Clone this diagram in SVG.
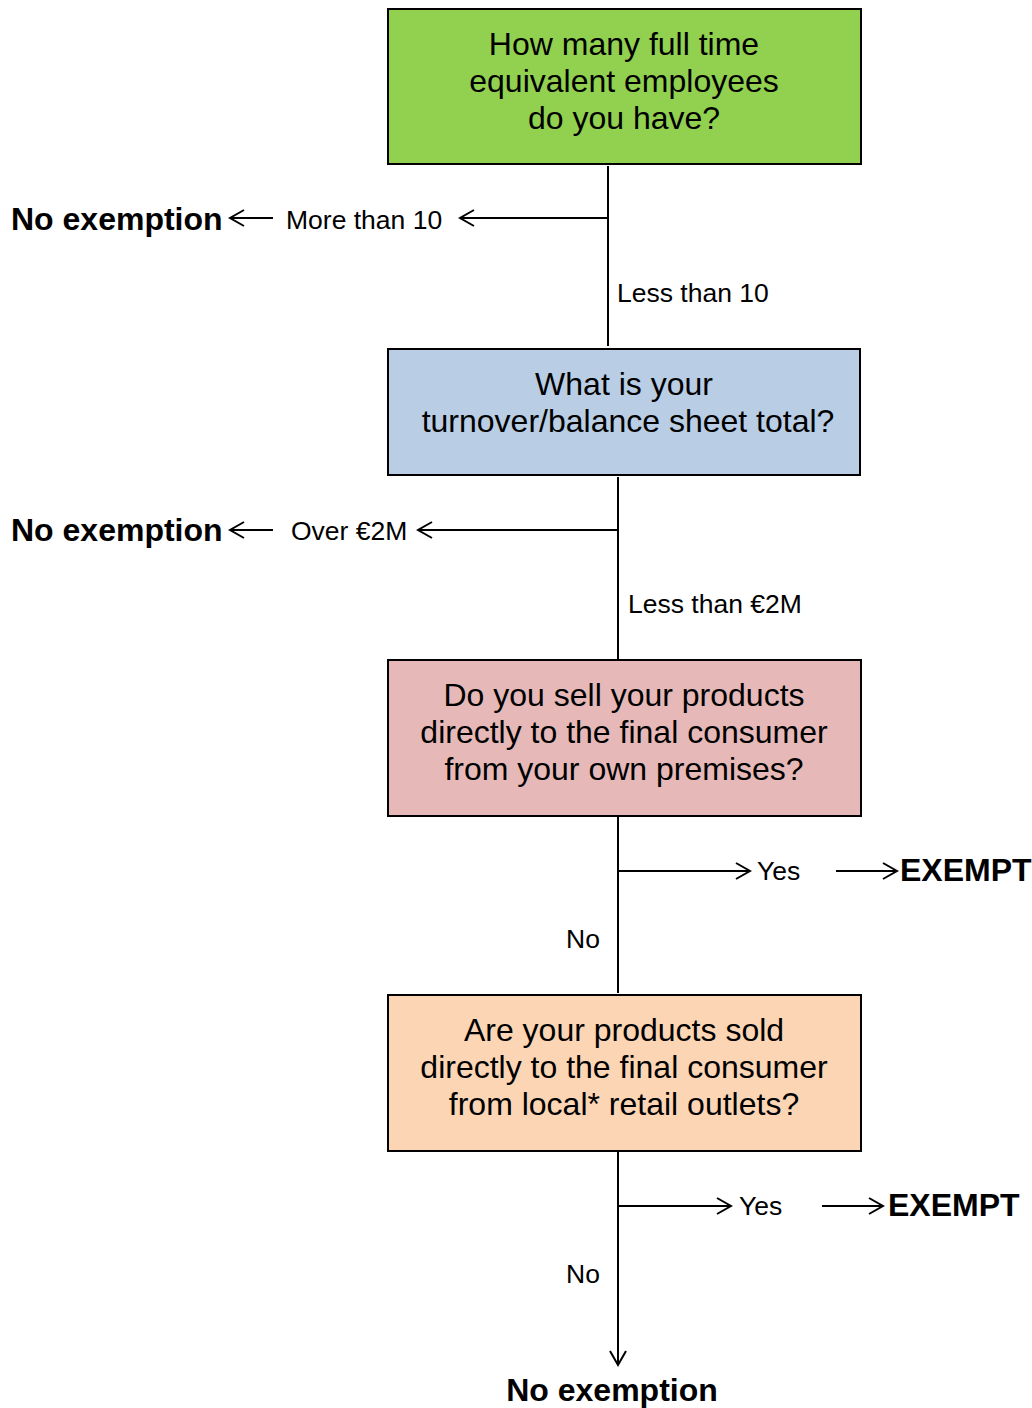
<svg xmlns="http://www.w3.org/2000/svg" width="1032" height="1408" viewBox="0 0 1032 1408">
<style>
.box{stroke:#000;stroke-width:2}
.q{font-family:"Liberation Sans",Arial,sans-serif;font-size:32px;text-anchor:middle;fill:#000}
.lbl{font-family:"Liberation Sans",Arial,sans-serif;font-size:26.5px;fill:#000}
.res{font-family:"Liberation Sans",Arial,sans-serif;font-size:32px;font-weight:bold;fill:#000}
.ln{stroke:#000;stroke-width:2;fill:none}
.arr{stroke:#000;stroke-width:2;fill:none;marker-end:url(#open)}
</style>
<defs>
<marker id="open" markerUnits="userSpaceOnUse" viewBox="-16 -10 18 20" refX="0" refY="0" markerWidth="18" markerHeight="20" orient="auto">
<path d="M-14,-8 L0,0 L-14,8" fill="none" stroke="#000" stroke-width="2"/>
</marker>
</defs>
<rect width="1032" height="1408" fill="#fff"/>
<g id="q1">
<rect class="box" x="388" y="9" width="473" height="155" fill="#92D050"/>
<text class="q" x="624" y="55">How many full time</text>
<text class="q" x="624" y="92">equivalent employees</text>
<text class="q" x="624" y="129">do you have?</text>
</g>
<g id="q2">
<rect class="box" x="388" y="349" width="472" height="126" fill="#B9CDE5"/>
<text class="q" x="624" y="395">What is your</text>
<text class="q" x="628" y="432">turnover/balance sheet total?</text>
</g>
<g id="q3">
<rect class="box" x="388" y="660" width="473" height="156" fill="#E6B9B8"/>
<text class="q" x="624" y="706">Do you sell your products</text>
<text class="q" x="624" y="743">directly to the final consumer</text>
<text class="q" x="624" y="780">from your own premises?</text>
</g>
<g id="q4">
<rect class="box" x="388" y="995" width="473" height="156" fill="#FCD5B5"/>
<text class="q" x="624" y="1041">Are your products sold</text>
<text class="q" x="624" y="1078">directly to the final consumer</text>
<text class="q" x="624" y="1115">from local* retail outlets?</text>
</g>
<g id="outcomes">
<text class="res" x="11" y="230">No exemption</text>
<text class="res" x="11" y="541">No exemption</text>
<text class="res" x="900" y="881">EXEMPT</text>
<text class="res" x="888" y="1216">EXEMPT</text>
<text class="res" x="612" y="1401" text-anchor="middle">No exemption</text>
</g>
<g id="connectors">
<line class="ln" x1="608" y1="166" x2="608" y2="346"/>
<line class="arr" x1="608" y1="218" x2="460" y2="218"/>
<line class="arr" x1="273" y1="218" x2="230" y2="218"/>
<line class="ln" x1="618" y1="477" x2="618" y2="659"/>
<line class="arr" x1="618" y1="530" x2="418" y2="530"/>
<line class="arr" x1="273" y1="530" x2="230" y2="530"/>
<line class="ln" x1="618" y1="816" x2="618" y2="993"/>
<line class="arr" x1="618" y1="871" x2="750" y2="871"/>
<line class="arr" x1="836" y1="871" x2="897" y2="871"/>
<line class="arr" x1="618" y1="1151" x2="618" y2="1365"/>
<line class="arr" x1="618" y1="1206" x2="731" y2="1206"/>
<line class="arr" x1="822" y1="1206" x2="883" y2="1206"/>
<text class="lbl" x="286" y="229">More than 10</text>
<text class="lbl" x="617" y="302">Less than 10</text>
<text class="lbl" x="291" y="540">Over €2M</text>
<text class="lbl" x="628" y="613">Less than €2M</text>
<text class="lbl" x="757" y="880">Yes</text>
<text class="lbl" x="566" y="948">No</text>
<text class="lbl" x="739" y="1215">Yes</text>
<text class="lbl" x="566" y="1283">No</text>
</g>
</svg>
